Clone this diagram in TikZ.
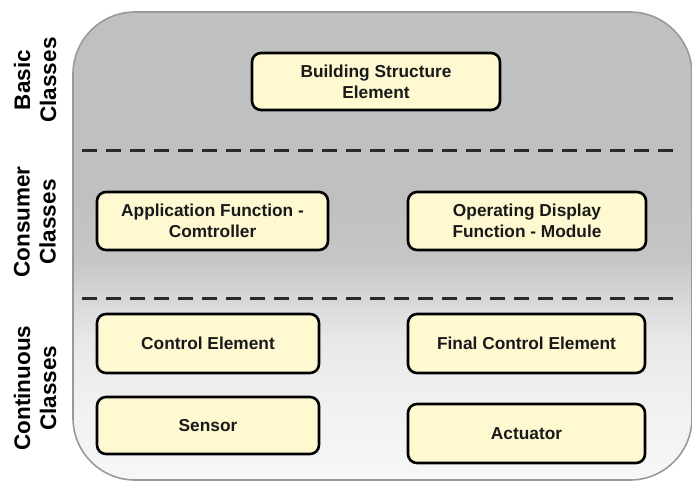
\documentclass[tikz,border=0pt]{standalone}
\usepackage{fontspec}
\setmainfont{Liberation Sans}
\definecolor{boxfill}{HTML}{FEF9D0}
\definecolor{bgtop}{HTML}{C0C0C0}
\definecolor{bgmidA}{HTML}{C6C6C6}
\definecolor{bgmidB}{HTML}{D8D8D8}
\definecolor{bgmidC}{HTML}{E8E8E8}
\definecolor{bgmidD}{HTML}{F0F0F0}
\definecolor{bgbot}{HTML}{F7F7F7}
\definecolor{dashcol}{HTML}{2A2A2A}
\definecolor{framecol}{HTML}{999999}
\pgfdeclareverticalshading{bgshade}{100bp}{%
  color(0bp)=(bgbot); color(25bp)=(bgbot); color(33.5bp)=(bgmidD);
  color(40bp)=(bgmidC); color(44.2bp)=(bgmidB); color(48.5bp)=(bgmidA);
  color(55bp)=(bgtop); color(100bp)=(bgtop)}
\tikzset{
  classbox/.style={draw=black, line width=2.6pt, rounded corners=9pt, fill=boxfill,
    inner sep=0pt, align=center, font=\bfseries\fontsize{17.3}{21}\selectfont, text=black!90},
  sidelabel/.style={rotate=90, align=center, inner sep=0pt,
    font=\bfseries\fontsize{22.5}{26}\selectfont, text=black},
  sepline/.style={draw=dashcol, line width=3pt, dash pattern=on 15pt off 9pt},
}
\begin{document}
\begin{tikzpicture}[x=1pt,y=-1pt]
\useasboundingbox (0,0) rectangle (692,482);
% frame
\path[shading=bgshade, draw=framecol, line width=1.6pt, rounded corners=62pt]
  (73,12) rectangle (692,480);
% separators
\coordinate (s1a) at (82,150); \coordinate (s1b) at (673,150);
\coordinate (s2a) at (82,298); \coordinate (s2b) at (673,298);
\draw[sepline] (s1a) -- (s1b);
\draw[sepline] (s2a) -- (s2b);
% side labels
\node[sidelabel] (lbasic) at (35,80) {Basic\\Classes};
\node[sidelabel] (lcons) at (35,222) {Consumer\\Classes};
\node[sidelabel] (lcont) at (35,388) {Continuous\\Classes};
% boxes
\node[classbox, minimum width=248pt, minimum height=57pt] (bse) at (376,81.5) {Building Structure\\Element};
\node[classbox, minimum width=231pt, minimum height=58pt] (app) at (212.5,221) {Application Function -\\Comtroller};
\node[classbox, minimum width=238pt, minimum height=58pt] (odf) at (527,221) {Operating Display\\Function - Module};
\node[classbox, minimum width=222pt, minimum height=59pt] (ce) at (208,343.5) {Control Element};
\node[classbox, minimum width=237pt, minimum height=59pt] (fce) at (526.5,343.5) {Final Control Element};
\node[classbox, minimum width=222pt, minimum height=57pt] (sen) at (208,425.5) {Sensor};
\node[classbox, minimum width=237pt, minimum height=59pt] (act) at (526.5,433.5) {Actuator};
\end{tikzpicture}
\end{document}
